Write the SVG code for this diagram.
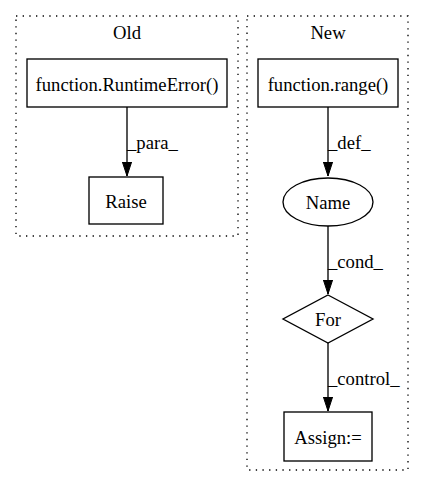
<svg xmlns="http://www.w3.org/2000/svg" width="424" height="488" viewBox="0 0 424 488">
<defs>
<style>
text{font-family:"Liberation Serif","Times New Roman",serif;font-size:18.67px;fill:#000}
.c{text-anchor:middle}
.cl{fill:none;stroke:#000;stroke-width:1.33;stroke-dasharray:1.33,5.33}
.n{fill:#fff;stroke:#000;stroke-width:1.33}
.e{fill:none;stroke:#000;stroke-width:1.33}
</style>
<marker id="ah" markerWidth="14" markerHeight="10" refX="14" refY="5" orient="auto" markerUnits="userSpaceOnUse">
<polygon points="0,0.4 14,5 0,9.6" fill="#000" stroke="#000" stroke-width="1"/>
</marker>
</defs>
<rect width="424" height="488" fill="#fff"/>
<g id="cluster_old">
<rect class="cl" x="16" y="16" width="222" height="220"/>
<text class="c" x="127" y="39">Old</text>
</g>
<g id="cluster_new">
<rect class="cl" x="247" y="16" width="161" height="454"/>
<text class="c" x="328" y="39">New</text>
</g>
<g id="connectors">
<path class="e" d="M127,107 L127,176" marker-end="url(#ah)"/>
<text x="127" y="149">_para_</text>
<path class="e" d="M328,107 L328,176" marker-end="url(#ah)"/>
<text x="328" y="149">_def_</text>
<path class="e" d="M328,226 L328,294" marker-end="url(#ah)"/>
<text x="328" y="268">_cond_</text>
<path class="e" d="M328,343 L328,411" marker-end="url(#ah)"/>
<text x="328" y="385">_control_</text>
</g>
<g id="runtimeerror">
<rect class="n" x="27" y="59" width="200" height="48"/>
<text class="c" x="127" y="91">function.RuntimeError()</text>
</g>
<g id="raise">
<rect class="n" x="89" y="177" width="74" height="47"/>
<text class="c" x="126" y="208">Raise</text>
</g>
<g id="range">
<rect class="n" x="258" y="59" width="140" height="48"/>
<text class="c" x="328" y="91">function.range()</text>
</g>
<g id="name">
<ellipse class="n" cx="328" cy="202" rx="45" ry="24"/>
<text class="c" x="328" y="209">Name</text>
</g>
<g id="for">
<polygon class="n" points="328,295 373,319 328,343 283,319"/>
<text class="c" x="328" y="326">For</text>
</g>
<g id="assign">
<rect class="n" x="284" y="412" width="88" height="49"/>
<text class="c" x="328" y="444">Assign:=</text>
</g>
</svg>
